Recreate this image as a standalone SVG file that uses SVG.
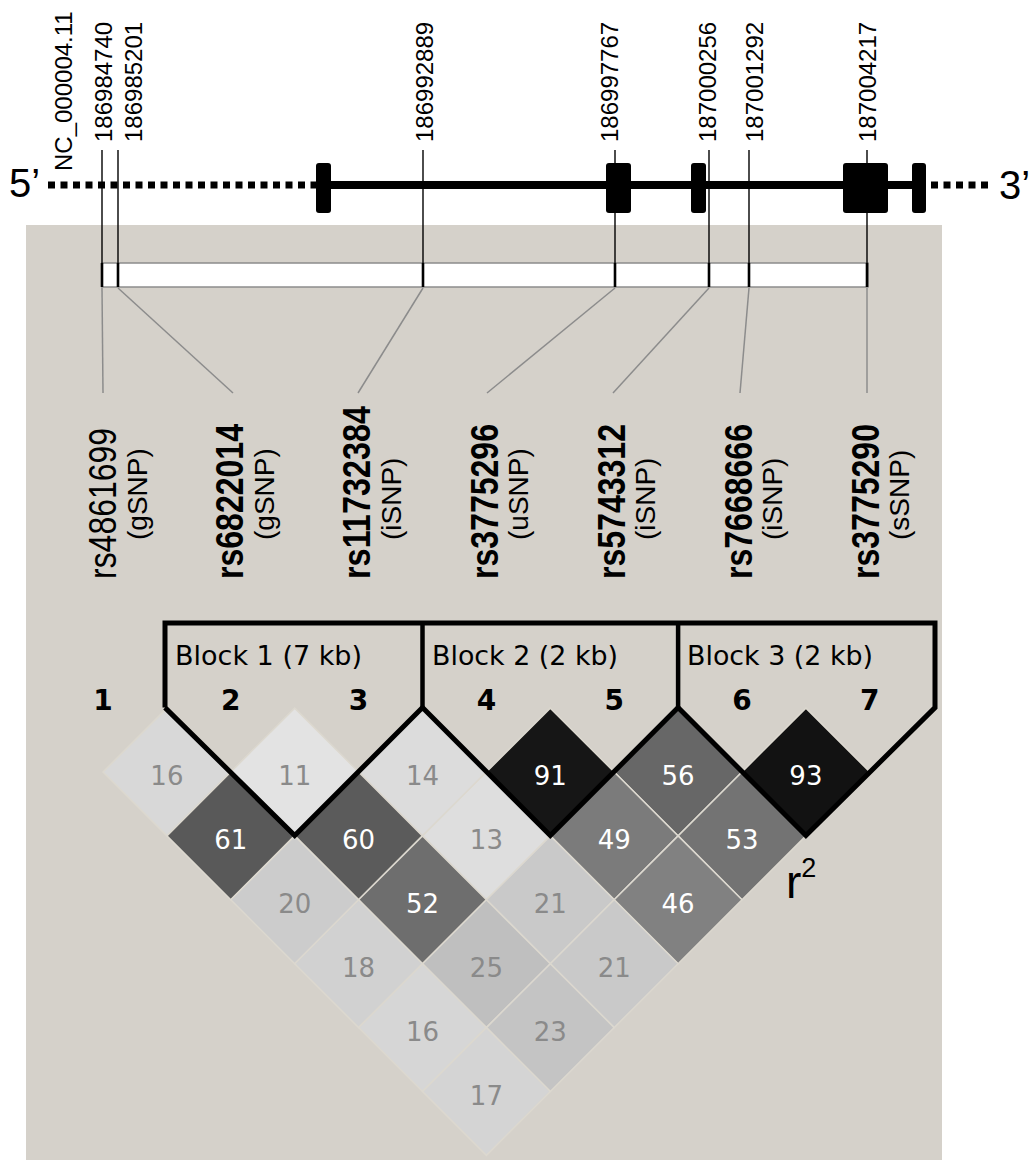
<svg xmlns="http://www.w3.org/2000/svg" width="1029" height="1160" viewBox="0 0 1029 1160">
<style>
.pos{font-family:"Liberation Sans",Arial,sans-serif;font-size:24px;fill:#000}
.end{font-family:"Liberation Sans",Arial,sans-serif;font-size:40px;fill:#000}
.rs{font-family:"Liberation Sans",Arial,sans-serif;font-size:38px;font-weight:bold;fill:#000}
.rsn{font-family:"Liberation Sans",Arial,sans-serif;font-size:38px;fill:#000}
.typ{font-family:"Liberation Sans",Arial,sans-serif;font-size:28px;fill:#000}
.blk{font-family:"DejaVu Sans",sans-serif;font-size:26px;fill:#000}
.num{font-family:"DejaVu Sans",sans-serif;font-size:28px;font-weight:bold;fill:#000;text-anchor:middle}
.ld{font-family:"DejaVu Sans",sans-serif;font-size:26px;text-anchor:middle}
.lt{fill:#8a8a8a}
.dk{fill:#ffffff}
.tick{stroke:#000;stroke-width:1.4}
.tickb{stroke:#000;stroke-width:2.6}
.conn{stroke:#8c8c8c;stroke-width:1.5;fill:none}
.exon{fill:#000}
.dm{stroke:#dcd8cf;stroke-width:1.5}
.blkline{fill:none;stroke:#000;stroke-width:5;stroke-linejoin:miter}
</style>
<defs>
<path id="dia" d="M0,-63.9 L63.9,0 L0,63.9 L-63.9,0 Z"/>
</defs>
<rect width="1029" height="1160" fill="#ffffff"/>
<rect id="panel" x="26" y="225" width="916" height="935" fill="#d5d1ca"/>

<g id="gene">
<line x1="48" y1="185" x2="316" y2="185" stroke="#000" stroke-width="7" stroke-dasharray="7 5.5"/>
<line x1="931" y1="185" x2="990" y2="185" stroke="#000" stroke-width="7" stroke-dasharray="7 5.5"/>
<line x1="322" y1="185" x2="920" y2="185" stroke="#000" stroke-width="8"/>
<rect class="exon" x="316" y="163" width="15" height="50" rx="3"/>
<rect class="exon" x="606" y="163" width="25" height="50" rx="3"/>
<rect class="exon" x="691" y="163" width="15" height="50" rx="3"/>
<rect class="exon" x="843" y="163" width="45" height="50" rx="3"/>
<rect class="exon" x="912" y="163" width="14" height="50" rx="3"/>
<text class="end" x="9" y="197">5’</text>
<text class="end" x="999" y="199">3’</text>
</g>

<g id="positions">
<text class="pos" transform="translate(72,171) rotate(-90)">NC_000004.11</text>
<text class="pos" transform="translate(112,142) rotate(-90)">186984740</text>
<text class="pos" transform="translate(142,142) rotate(-90)">186985201</text>
<text class="pos" transform="translate(433,142) rotate(-90)">186992889</text>
<text class="pos" transform="translate(618,142) rotate(-90)">186997767</text>
<text class="pos" transform="translate(716,142) rotate(-90)">187000256</text>
<text class="pos" transform="translate(763,142) rotate(-90)">187001292</text>
<text class="pos" transform="translate(876,142) rotate(-90)">187004217</text>
</g>

<g id="bar">
<rect x="102" y="263" width="766" height="24" fill="#ffffff" stroke="#8c8c8c" stroke-width="1.5"/>
</g>

<g id="connectors">
<line class="tick" x1="102" y1="150" x2="102" y2="287"/>
<line class="tick" x1="118" y1="150" x2="118" y2="287"/>
<line class="tick" x1="423" y1="150" x2="423" y2="287"/>
<line class="tick" x1="615" y1="150" x2="615" y2="287"/>
<line class="tick" x1="709" y1="150" x2="709" y2="287"/>
<line class="tick" x1="749" y1="150" x2="749" y2="287"/>
<line class="tick" x1="867" y1="150" x2="867" y2="287"/>
<line class="tickb" x1="102" y1="263" x2="102" y2="287"/>
<line class="tickb" x1="118" y1="263" x2="118" y2="287"/>
<line class="tickb" x1="423" y1="263" x2="423" y2="287"/>
<line class="tickb" x1="615" y1="263" x2="615" y2="287"/>
<line class="tickb" x1="709" y1="263" x2="709" y2="287"/>
<line class="tickb" x1="749" y1="263" x2="749" y2="287"/>
<line class="tickb" x1="867" y1="263" x2="867" y2="287"/>
<line class="conn" x1="102" y1="288" x2="103" y2="393"/>
<line class="conn" x1="118" y1="288" x2="233" y2="393"/>
<line class="conn" x1="423" y1="288" x2="358" y2="393"/>
<line class="conn" x1="615" y1="288" x2="487" y2="393"/>
<line class="conn" x1="709" y1="288" x2="613" y2="393"/>
<line class="conn" x1="749" y1="288" x2="740" y2="393"/>
<line class="conn" x1="867" y1="288" x2="867" y2="393"/>
</g>

<g id="snp-labels">
<g id="snp1"><text class="rsn" transform="translate(116,579) rotate(-90)" textLength="151" lengthAdjust="spacingAndGlyphs">rs4861699</text><text class="typ" transform="translate(147,540) rotate(-90)">(gSNP)</text></g>
<g id="snp2"><text class="rs" transform="translate(243,579) rotate(-90)" textLength="155" lengthAdjust="spacingAndGlyphs">rs6822014</text><text class="typ" transform="translate(274,540) rotate(-90)">(gSNP)</text></g>
<g id="snp3"><text class="rs" transform="translate(370,579) rotate(-90)" textLength="173" lengthAdjust="spacingAndGlyphs">rs11732384</text><text class="typ" transform="translate(401,540) rotate(-90)">(iSNP)</text></g>
<g id="snp4"><text class="rs" transform="translate(498,579) rotate(-90)" textLength="155" lengthAdjust="spacingAndGlyphs">rs3775296</text><text class="typ" transform="translate(528,540) rotate(-90)">(uSNP)</text></g>
<g id="snp5"><text class="rs" transform="translate(625,579) rotate(-90)" textLength="155" lengthAdjust="spacingAndGlyphs">rs5743312</text><text class="typ" transform="translate(655,540) rotate(-90)">(iSNP)</text></g>
<g id="snp6"><text class="rs" transform="translate(752,579) rotate(-90)" textLength="155" lengthAdjust="spacingAndGlyphs">rs7668666</text><text class="typ" transform="translate(782,540) rotate(-90)">(iSNP)</text></g>
<g id="snp7"><text class="rs" transform="translate(879,579) rotate(-90)" textLength="155" lengthAdjust="spacingAndGlyphs">rs3775290</text><text class="typ" transform="translate(909,540) rotate(-90)">(sSNP)</text></g>
</g>

<g id="ld-diamonds">
<use href="#dia" class="dm" transform="translate(166.9,772)" fill="#d8d8d8"/>
<use href="#dia" class="dm" transform="translate(294.7,772)" fill="#e3e3e3"/>
<use href="#dia" class="dm" transform="translate(422.5,772)" fill="#dcdcdc"/>
<use href="#dia" class="dm" transform="translate(550.3,772)" fill="#161616"/>
<use href="#dia" class="dm" transform="translate(678.1,772)" fill="#676767"/>
<use href="#dia" class="dm" transform="translate(805.9,772)" fill="#121212"/>
<use href="#dia" class="dm" transform="translate(230.8,835.9)" fill="#595959"/>
<use href="#dia" class="dm" transform="translate(358.6,835.9)" fill="#5b5b5b"/>
<use href="#dia" class="dm" transform="translate(486.4,835.9)" fill="#dedede"/>
<use href="#dia" class="dm" transform="translate(614.2,835.9)" fill="#7b7b7b"/>
<use href="#dia" class="dm" transform="translate(742,835.9)" fill="#737373"/>
<use href="#dia" class="dm" transform="translate(294.7,899.8)" fill="#cccccc"/>
<use href="#dia" class="dm" transform="translate(422.5,899.8)" fill="#6e6e6e"/>
<use href="#dia" class="dm" transform="translate(550.3,899.8)" fill="#c9c9c9"/>
<use href="#dia" class="dm" transform="translate(678.1,899.8)" fill="#818181"/>
<use href="#dia" class="dm" transform="translate(358.6,963.7)" fill="#d1d1d1"/>
<use href="#dia" class="dm" transform="translate(486.4,963.7)" fill="#bfbfbf"/>
<use href="#dia" class="dm" transform="translate(614.2,963.7)" fill="#c9c9c9"/>
<use href="#dia" class="dm" transform="translate(422.5,1027.6)" fill="#d6d6d6"/>
<use href="#dia" class="dm" transform="translate(550.3,1027.6)" fill="#c4c4c4"/>
<use href="#dia" class="dm" transform="translate(486.4,1091.5)" fill="#d4d4d4"/>
</g>

<g id="ld-values">
<text class="ld lt" x="166.9" y="785">16</text>
<text class="ld lt" x="294.7" y="785">11</text>
<text class="ld lt" x="422.5" y="785">14</text>
<text class="ld dk" x="550.3" y="785">91</text>
<text class="ld dk" x="678.1" y="785">56</text>
<text class="ld dk" x="805.9" y="785">93</text>
<text class="ld dk" x="230.8" y="849">61</text>
<text class="ld dk" x="358.6" y="849">60</text>
<text class="ld lt" x="486.4" y="849">13</text>
<text class="ld dk" x="614.2" y="849">49</text>
<text class="ld dk" x="742" y="849">53</text>
<text class="ld lt" x="294.7" y="913">20</text>
<text class="ld dk" x="422.5" y="913">52</text>
<text class="ld lt" x="550.3" y="913">21</text>
<text class="ld dk" x="678.1" y="913">46</text>
<text class="ld lt" x="358.6" y="977">18</text>
<text class="ld lt" x="486.4" y="977">25</text>
<text class="ld lt" x="614.2" y="977">21</text>
<text class="ld lt" x="422.5" y="1041">16</text>
<text class="ld lt" x="550.3" y="1041">23</text>
<text class="ld lt" x="486.4" y="1105">17</text>
</g>

<g id="blocks">
<path class="blkline" d="M165,707.6 L165,623 L935,623 L935,707.6 L805.9,835.5 L678.1,707.6 L550.3,835.5 L422.5,707.6 L294.7,835.5 L165,707.6"/>
<line x1="422.5" y1="623" x2="422.5" y2="707.6" stroke="#000" stroke-width="4.5"/>
<line x1="678.1" y1="623" x2="678.1" y2="707.6" stroke="#000" stroke-width="4.5"/>
<text class="blk" x="175" y="665" textLength="187" lengthAdjust="spacingAndGlyphs">Block 1 (7 kb)</text>
<text class="blk" x="432" y="665" textLength="186" lengthAdjust="spacingAndGlyphs">Block 2 (2 kb)</text>
<text class="blk" x="687" y="665" textLength="186" lengthAdjust="spacingAndGlyphs">Block 3 (2 kb)</text>
</g>

<g id="snp-numbers">
<text class="num" x="103" y="710">1</text>
<text class="num" x="230.8" y="710">2</text>
<text class="num" x="358.6" y="710">3</text>
<text class="num" x="486.4" y="710">4</text>
<text class="num" x="614.2" y="710">5</text>
<text class="num" x="742" y="710">6</text>
<text class="num" x="869.8" y="710">7</text>
</g>

<g id="legend">
<text x="786" y="898" font-family="'Liberation Sans',Arial,sans-serif" font-size="46" fill="#000">r<tspan font-size="27" dy="-21">2</tspan></text>
</g>
</svg>
